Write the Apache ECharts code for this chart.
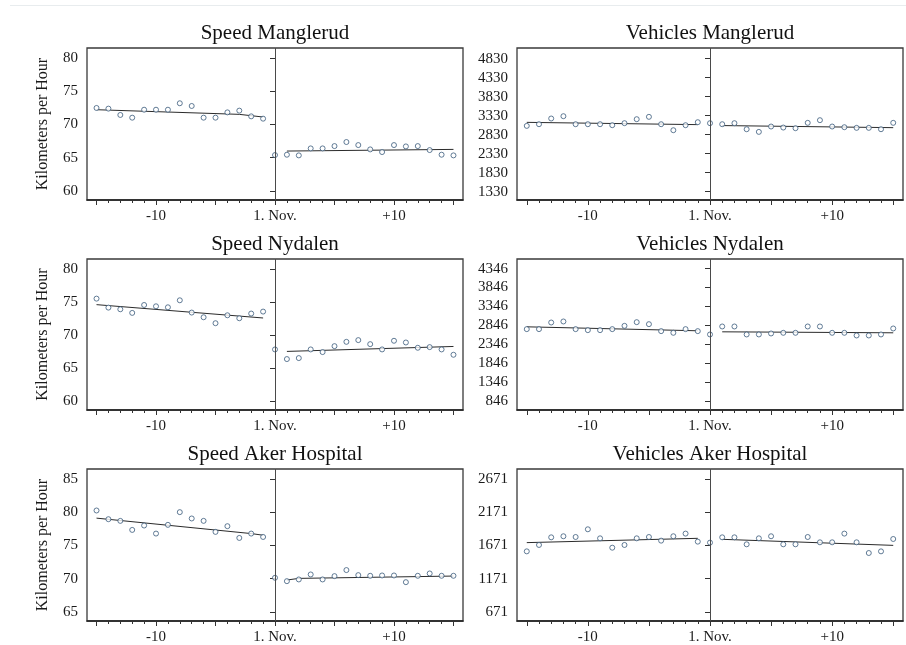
<!DOCTYPE html>
<html>
<head>
<meta charset="utf-8">
<title>Speed and traffic volume around 1 November</title>
<script src="https://cdn.jsdelivr.net/npm/echarts@6/dist/echarts.min.js"></script>
<style>
  html, body { margin: 0; padding: 0; background: #ffffff; }
  #chart { width: 906px; height: 645px; }
</style>
</head>
<body>
<div id="chart"></div>
<script>
// Days relative to 1 November
const days = [-15,-14,-13,-12,-11,-10,-9,-8,-7,-6,-5,-4,-3,-2,-1,0,1,2,3,4,5,6,7,8,9,10,11,12,13,14,15];

// Daily means
const speedManglerud = [72.46,72.36,71.41,71.0,72.2,72.2,72.2,73.17,72.76,71.0,71.0,71.8,72.06,71.2,70.85,65.38,65.43,65.33,66.38,66.38,66.73,67.34,66.88,66.23,65.83,66.88,66.68,66.73,66.13,65.43,65.33];
const vehiclesManglerud = [3062,3106,3256,3317,3106,3106,3106,3080,3133,3238,3300,3106,2948,3080,3159,3133,3106,3133,2974,2904,3045,3018,3001,3142,3212,3045,3027,3010,3010,2974,3142];
const speedNydalen = [75.48,74.12,73.87,73.32,74.52,74.32,74.17,75.23,73.37,72.66,71.76,72.96,72.51,73.22,73.52,67.79,66.33,66.48,67.79,67.39,68.29,68.94,69.2,68.59,67.79,69.1,68.84,68.04,68.14,67.79,66.98];
const vehiclesNydalen = [2746,2746,2921,2948,2746,2719,2719,2746,2833,2930,2877,2693,2649,2746,2693,2605,2816,2816,2605,2605,2631,2649,2649,2816,2816,2649,2649,2578,2578,2605,2763];
const speedAker = [80.26,78.95,78.70,77.34,78.0,76.79,78.1,80.01,79.06,78.70,77.04,77.9,76.13,76.79,76.28,70.14,69.63,69.89,70.64,69.89,70.39,71.3,70.54,70.44,70.49,70.49,69.48,70.44,70.79,70.44,70.44];
const vehiclesAker = [1583,1679,1794,1810,1799,1915,1779,1638,1679,1779,1799,1744,1810,1850,1729,1714,1794,1794,1689,1779,1810,1689,1689,1799,1719,1719,1850,1719,1558,1583,1769];

// Fitted trends before and after the cut-off, [day, value]
const fitSpeedManglerudPre = [[-15,72.2],[-3,71.5],[-1,71.1]];
const fitSpeedManglerudPost = [[1,65.98],[15,66.23]];
const fitVehiclesManglerudPre = [[-15,3155],[-1,3095]];
const fitVehiclesManglerudPost = [[1,3070],[15,3015]];
const fitSpeedNydalenPre = [[-15,74.57],[-1,72.55]];
const fitSpeedNydalenPost = [[1,67.49],[15,68.24]];
const fitVehiclesNydalenPre = [[-15,2807],[-1,2702]];
const fitVehiclesNydalenPost = [[1,2675],[15,2649]];
const fitSpeedAkerPre = [[-15,79.11],[-2,76.79],[-1,76.54]];
const fitSpeedAkerPost = [[1,69.8],[2,70.05],[15,70.4]];
const fitVehiclesAkerPre = [[-15,1714],[-1,1779]];
const fitVehiclesAkerPost = [[1,1764],[15,1673]];

// Tick labels
const speedTicksLow = [60,65,70,75,80];
const speedTicksHigh = [65,70,75,80,85];
const vehicleTicksManglerud = [1330,1830,2330,2830,3330,3830,4330,4830];
const vehicleTicksNydalen = [846,1346,1846,2346,2846,3346,3846,4346];
const vehicleTicksAker = [671,1171,1671,2171,2671];
const dayMinorTicks = days;
const dayMajorTicks = [-15,-10,-5,0,5,10,15];
const dayLabelValues = [-10,0,10];
const dayLabelText = { '-10': '-10', '0': '1. Nov.', '10': '+10' };

const panels = [
  { title: 'Speed Manglerud', values: speedManglerud, ticks: speedTicksLow, extent: [58.62, 81.48], pre: fitSpeedManglerudPre, post: fitSpeedManglerudPost, row: 0, col: 0 },
  { title: 'Vehicles Manglerud', values: vehiclesManglerud, ticks: vehicleTicksManglerud, extent: [1111, 5112], pre: fitVehiclesManglerudPre, post: fitVehiclesManglerudPost, row: 0, col: 1 },
  { title: 'Speed Nydalen', values: speedNydalen, ticks: speedTicksLow, extent: [58.62, 81.48], pre: fitSpeedNydalenPre, post: fitSpeedNydalenPost, row: 1, col: 0 },
  { title: 'Vehicles Nydalen', values: vehiclesNydalen, ticks: vehicleTicksNydalen, extent: [609, 4599], pre: fitVehiclesNydalenPre, post: fitVehiclesNydalenPost, row: 1, col: 1 },
  { title: 'Speed Aker Hospital', values: speedAker, ticks: speedTicksHigh, extent: [63.64, 86.5], pre: fitSpeedAkerPre, post: fitSpeedAkerPost, row: 2, col: 0 },
  { title: 'Vehicles Aker Hospital', values: vehiclesAker, ticks: vehicleTicksAker, extent: [535, 2822], pre: fitVehiclesAkerPre, post: fitVehiclesAkerPost, row: 2, col: 1 }
];

const cols = [{ left: 87, width: 376 }, { left: 517, width: 386 }];
const rows = [{ top: 48, height: 152 }, { top: 259, height: 151 }, { top: 469, height: 152 }];

const FONT = '"Liberation Serif", "Times New Roman", serif';
const INK = '#1a1a1a';
const MARKER = '#3b5b7c';

const grid = [], xAxis = [], yAxis = [], series = [], graphic = [];

// faint rule across the top
graphic.push({
  type: 'line', shape: { x1: 10, y1: 5.5, x2: 906, y2: 5.5 },
  style: { stroke: '#e8ecee', lineWidth: 1 }, silent: true
});

panels.forEach((p, i) => {
  const c = cols[p.col], r = rows[p.row];
  grid.push({
    left: c.left, top: r.top, width: c.width, height: r.height,
    show: true, borderColor: '#3a3a3a', borderWidth: 1.3, backgroundColor: 'transparent'
  });

  graphic.push({
    type: 'text', x: c.left + c.width / 2, y: r.top - 15,
    style: { text: p.title, fill: '#111', font: '21px ' + FONT, align: 'center', verticalAlign: 'middle' },
    silent: true
  });

  // minor day ticks
  xAxis.push({
    type: 'value', gridIndex: i, position: 'bottom', min: -15.8, max: 15.8,
    axisLine: { show: true, lineStyle: { color: '#222', width: 1.5 } },
    axisTick: { show: true, customValues: dayMinorTicks, length: 3, lineStyle: { color: '#333', width: 1 } },
    axisLabel: { show: false },
    splitLine: { show: false }
  });
  // major day ticks with labels
  xAxis.push({
    type: 'value', gridIndex: i, position: 'bottom', min: -15.8, max: 15.8,
    axisLine: { show: false },
    axisTick: { show: true, customValues: dayMajorTicks, length: 5, lineStyle: { color: '#333', width: 1 } },
    axisLabel: {
      show: true, customValues: dayLabelValues, margin: 9,
      formatter: v => dayLabelText[String(v)],
      color: INK, fontFamily: FONT, fontSize: 15
    },
    splitLine: { show: false }
  });

  yAxis.push({
    type: 'value', gridIndex: i, min: p.extent[0], max: p.extent[1],
    name: p.col === 0 ? 'Kilometers per Hour' : '',
    nameLocation: 'middle', nameGap: 36,
    nameTextStyle: { color: INK, fontFamily: FONT, fontSize: 16 },
    axisLine: { show: true, lineStyle: { color: '#777', width: 1 } },
    axisTick: { show: true, customValues: p.ticks, length: 5, lineStyle: { color: '#333' } },
    axisLabel: {
      show: true, customValues: p.ticks, margin: 9,
      formatter: v => String(v),
      color: INK, fontFamily: FONT, fontSize: 15
    },
    splitLine: { show: false }
  });

  series.push({
    type: 'scatter', xAxisIndex: 2 * i + 1, yAxisIndex: i,
    data: days.map((d, k) => [d, p.values[k]]),
    symbol: 'circle', symbolSize: 5,
    itemStyle: { color: '#ffffff', borderColor: MARKER, borderWidth: 1 },
    emphasis: { disabled: true },
    markLine: {
      silent: true, symbol: ['none', 'none'], label: { show: false },
      lineStyle: { color: '#4a4a4a', width: 1, type: 'solid' },
      data: [{ xAxis: 0 }]
    },
    z: 3
  });
  [p.pre, p.post].forEach(fit => {
    series.push({
      type: 'line', xAxisIndex: 2 * i + 1, yAxisIndex: i,
      data: fit, showSymbol: false, smooth: false,
      lineStyle: { color: '#2b2b2b', width: 1 },
      emphasis: { disabled: true }, z: 2
    });
  });
});

const chart = echarts.init(document.getElementById('chart'), null, { renderer: 'canvas' });
chart.setOption({
  backgroundColor: '#ffffff',
  animation: false,
  grid, xAxis, yAxis, series, graphic
});
</script>
</body>
</html>
